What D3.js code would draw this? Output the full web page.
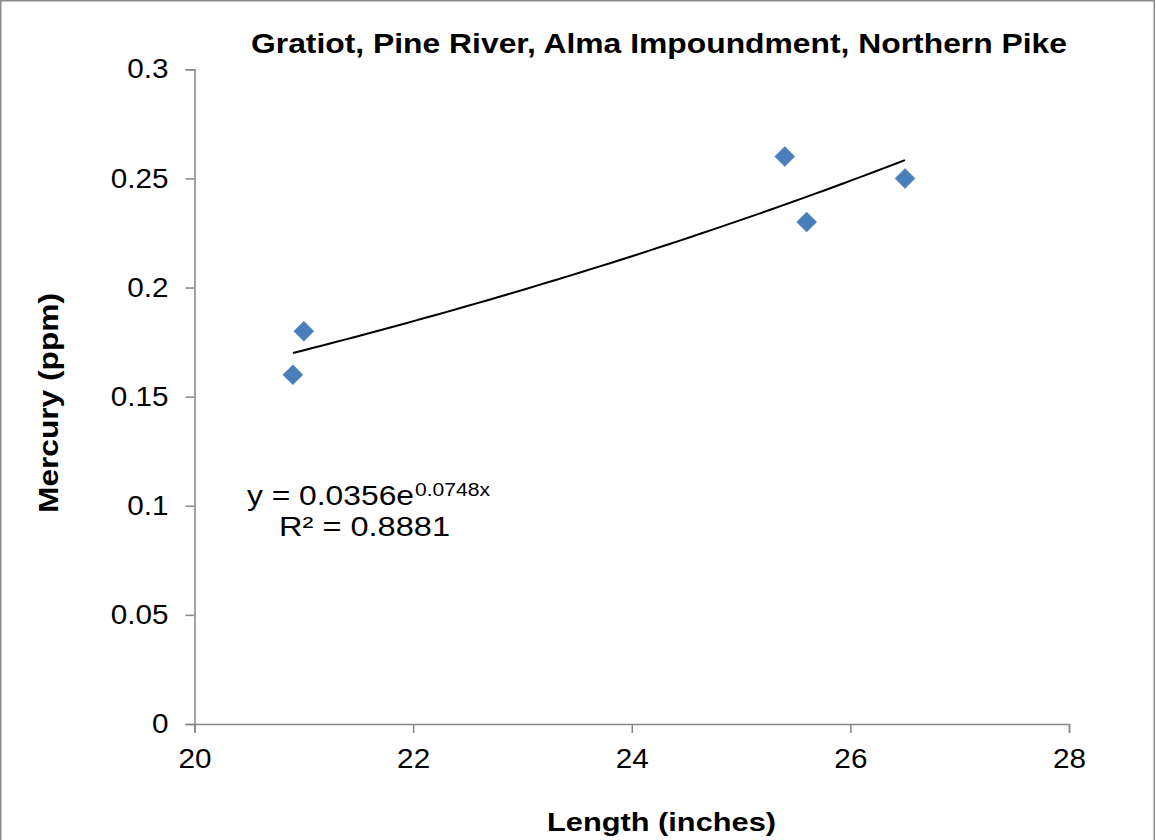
<!DOCTYPE html>
<html><head><meta charset="utf-8">
<script src="https://cdn.jsdelivr.net/npm/d3@7/dist/d3.min.js"></script>
<style>body{margin:0;background:#fff}svg{display:block}text{font-family:"Liberation Sans",Arial,sans-serif;fill:#000}</style>
</head><body>
<svg id="chart" width="1156" height="840"></svg>
<script>
// ---- data ----
const lengths = [20.9, 21.0, 25.4, 25.6, 26.5];
const mercury = [0.16, 0.18, 0.26, 0.23, 0.25];
const xTicks = [20, 22, 24, 26, 28];
const yTicks = [0, 0.05, 0.1, 0.15, 0.2, 0.25, 0.3];
const trendA = 0.0356, trendB = 0.0748, rSquared = 0.8881;
const titleText = "Gratiot, Pine River, Alma Impoundment, Northern Pike";
const xLabel = "Length (inches)";
const yLabel = "Mercury (ppm)";

const svg = d3.select("#chart");
const x = d3.scaleLinear().domain([20, 28]).range([194.5, 1069]);
const y = d3.scaleLinear().domain([0, 0.3]).range([724, 69.3]);

function stretch(sel, k) {
  sel.each(function () {
    const w = this.getComputedTextLength();
    d3.select(this).attr("textLength", w * k).attr("lengthAdjust", "spacingAndGlyphs");
  });
}
function fitTo(sel, w) {
  sel.attr("textLength", w).attr("lengthAdjust", "spacingAndGlyphs");
}

// outer border
svg.append("rect").attr("x", 0.75).attr("y", 0.75).attr("width", 1153.5).attr("height", 840)
  .attr("fill", "#fff").attr("stroke", "#8c8c8c").attr("stroke-width", 1.5);

// axes
const axisColor = "#868686";
const gx = svg.append("g").attr("transform", `translate(0,${y(0)})`)
  .call(d3.axisBottom(x).tickValues(xTicks).tickSize(9).tickPadding(16).tickFormat(d3.format("d")));
const gy = svg.append("g").attr("transform", `translate(${x(20)},0)`)
  .call(d3.axisLeft(y).tickValues(yTicks).tickSize(9).tickPadding(17).tickFormat(d => String(d)));
[gx, gy].forEach(g => {
  g.select(".domain").attr("stroke", axisColor).attr("stroke-width", 1.5);
  g.selectAll(".tick line").attr("stroke", axisColor).attr("stroke-width", 1.5);
  g.selectAll(".tick text").attr("font-size", 27).attr("font-family", "Liberation Sans, Arial, sans-serif").attr("fill", "#000");
  stretch(g.selectAll(".tick text"), 1.1);
});

// trendline (exponential fit shown in the label)
const xMin = d3.min(lengths), xMax = d3.max(lengths);
const trendPts = d3.range(0, 61).map(i => {
  const xv = xMin + (xMax - xMin) * i / 60;
  return [xv, trendA * Math.exp(trendB * xv)];
});
svg.append("path").datum(trendPts)
  .attr("fill", "none").attr("stroke", "#000").attr("stroke-width", 2)
  .attr("d", d3.line().x(d => x(d[0])).y(d => y(d[1])));

// points
const diamond = d3.symbol().type(d3.symbolSquare).size(200);
svg.append("g").selectAll("path").data(lengths.map((l, i) => [l, mercury[i]])).join("path")
  .attr("d", diamond)
  .attr("transform", d => `translate(${x(d[0])},${y(d[1])}) rotate(45)`)
  .attr("fill", "#4a7ebb").attr("stroke", "#4a7ebb").attr("stroke-width", 0.5);

// title
fitTo(svg.append("text").attr("x", 251).attr("y", 52.5).attr("font-size", 28).attr("font-weight", "bold")
  .text(titleText), 816);

// axis titles
fitTo(svg.append("text").attr("x", 547).attr("y", 831).attr("font-size", 26).attr("font-weight", "bold")
  .text(xLabel), 229);
fitTo(svg.append("text").attr("transform", "translate(57.5,403) rotate(-90)").attr("text-anchor", "middle")
  .attr("font-size", 27).attr("font-weight", "bold").text(yLabel), 220);

// equation
const eqMain = "y = " + trendA + "e";
const eqExp = trendB + "x";
fitTo(svg.append("text").attr("x", 247).attr("y", 505).attr("font-size", 28).text(eqMain), 167);
fitTo(svg.append("text").attr("x", 415).attr("y", 496).attr("font-size", 18).text(eqExp), 75);
fitTo(svg.append("text").attr("x", 279).attr("y", 536).attr("font-size", 28).text("R² = " + rSquared), 171);
</script>
</body></html>
